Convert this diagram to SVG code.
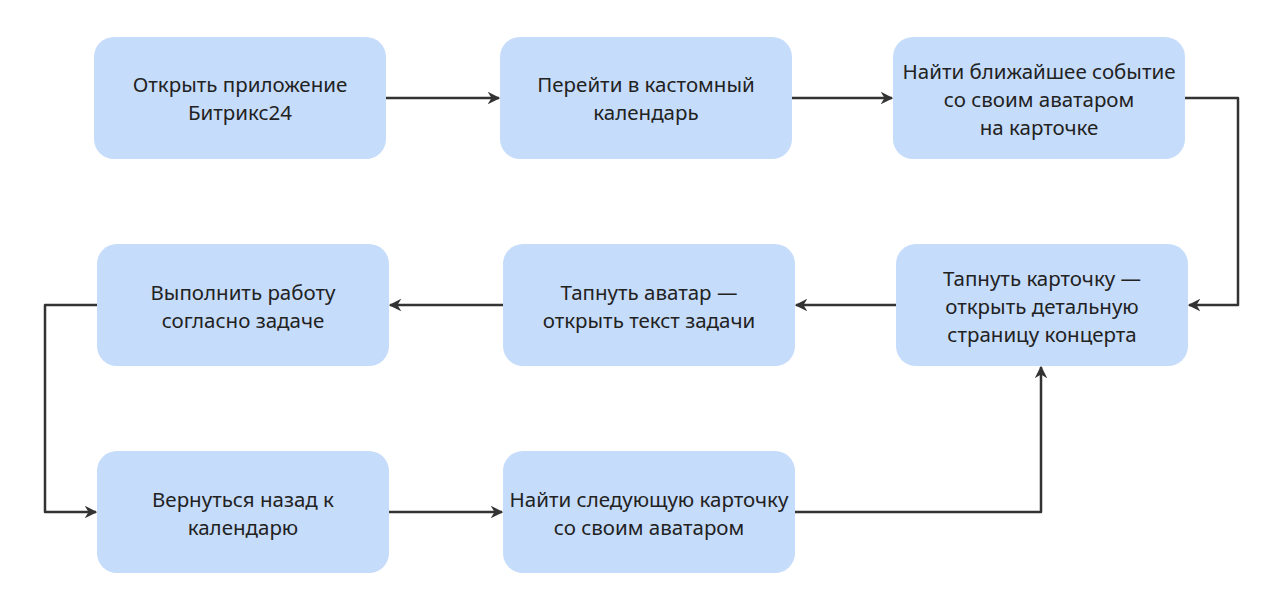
<svg xmlns="http://www.w3.org/2000/svg" width="1280" height="613" viewBox="0 0 1280 613">
<style>
.box{fill:#c6dcfb;}
.t{font-family:"Noto Sans","Open Sans",sans-serif;font-size:20.5px;fill:#222;text-anchor:middle;}
.c{fill:none;stroke:#333;stroke-width:2.5;stroke-linejoin:round;}
</style>
<defs>
<marker id="ah" viewBox="0 0 10 10" refX="9" refY="5" markerWidth="5" markerHeight="5" orient="auto" markerUnits="strokeWidth">
<path d="M0,0 L10,5 L0,10 L3,5 Z" fill="#333"/>
</marker>
</defs>
<rect width="1280" height="613" fill="#fff"/>
<g id="connectors">
<path class="c" d="M386,98 H499" marker-end="url(#ah)"/>
<path class="c" d="M792,98 H892" marker-end="url(#ah)"/>
<path class="c" d="M1185,98 H1238 V305 H1189" marker-end="url(#ah)"/>
<path class="c" d="M896,305 H796" marker-end="url(#ah)"/>
<path class="c" d="M503,305 H390" marker-end="url(#ah)"/>
<path class="c" d="M97,305 H45 V512 H96" marker-end="url(#ah)"/>
<path class="c" d="M389,512 H502" marker-end="url(#ah)"/>
<path class="c" d="M795,512 H1041 V367" marker-end="url(#ah)"/>
</g>
<g id="n1"><rect class="box" x="94" y="37" width="292" height="122" rx="20"/><text class="t" x="240" y="92">Открыть приложение</text><text class="t" x="240" y="120">Битрикс24</text></g>
<g id="n2"><rect class="box" x="500" y="37" width="292" height="122" rx="20"/><text class="t" x="646" y="92">Перейти в кастомный</text><text class="t" x="646" y="120">календарь</text></g>
<g id="n3"><rect class="box" x="893" y="37" width="292" height="122" rx="20"/><text class="t" x="1039" y="79">Найти ближайшее событие</text><text class="t" x="1039" y="107">со своим аватаром</text><text class="t" x="1039" y="135">на карточке</text></g>
<g id="n4"><rect class="box" x="896" y="244" width="292" height="122" rx="20"/><text class="t" x="1042" y="286">Тапнуть карточку —</text><text class="t" x="1042" y="314">открыть детальную</text><text class="t" x="1042" y="342">страницу концерта</text></g>
<g id="n5"><rect class="box" x="503" y="244" width="292" height="122" rx="20"/><text class="t" x="649" y="300">Тапнуть аватар —</text><text class="t" x="649" y="328">открыть текст задачи</text></g>
<g id="n6"><rect class="box" x="97" y="244" width="292" height="122" rx="20"/><text class="t" x="243" y="300">Выполнить работу</text><text class="t" x="243" y="328">согласно задаче</text></g>
<g id="n7"><rect class="box" x="97" y="451" width="292" height="122" rx="20"/><text class="t" x="243" y="507">Вернуться назад к</text><text class="t" x="243" y="535">календарю</text></g>
<g id="n8"><rect class="box" x="503" y="451" width="292" height="122" rx="20"/><text class="t" x="649" y="507">Найти следующую карточку</text><text class="t" x="649" y="535">со своим аватаром</text></g>
</svg>
